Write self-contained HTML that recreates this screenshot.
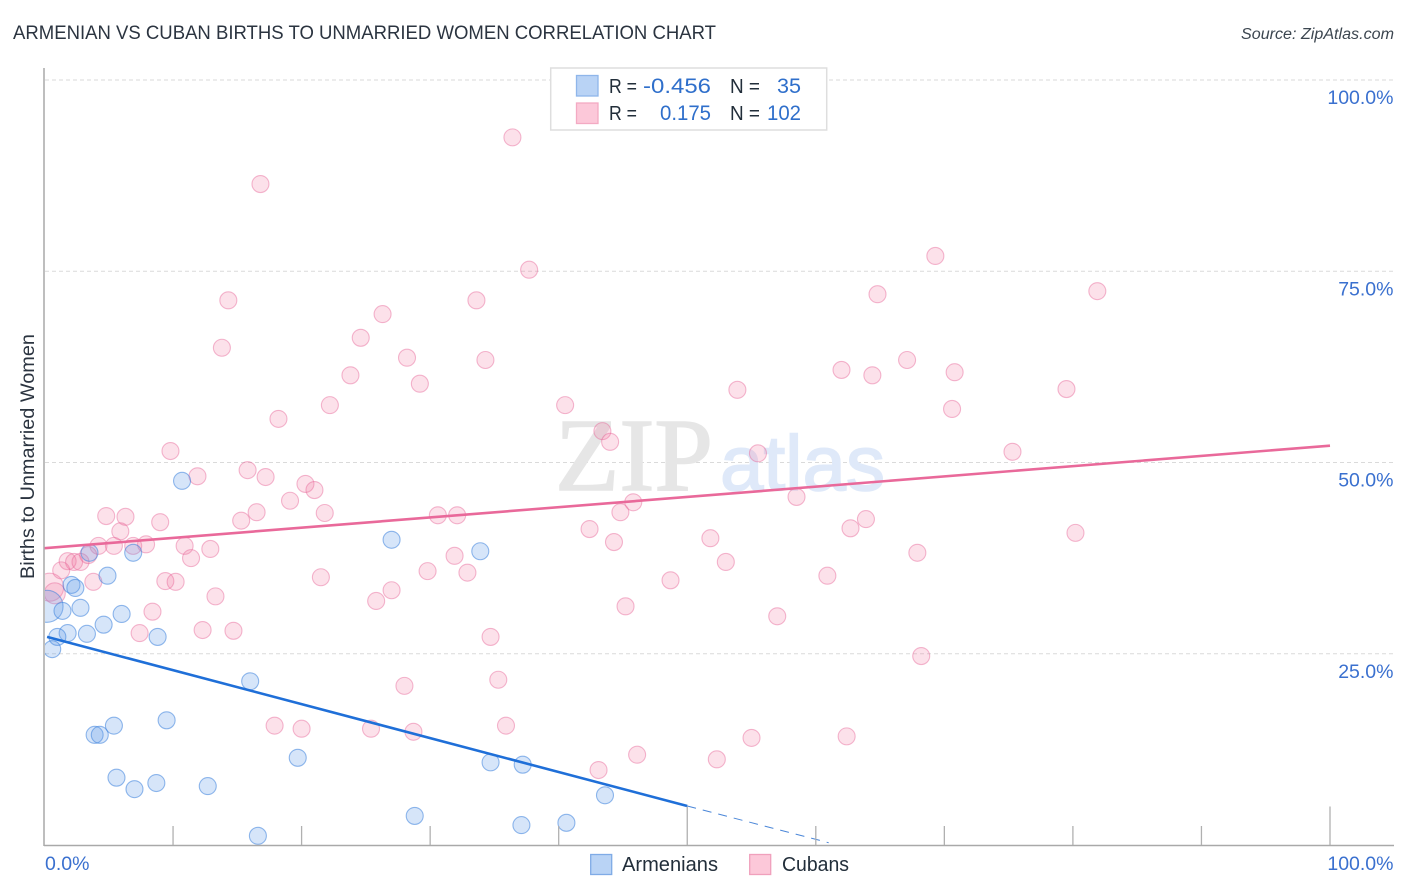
<!DOCTYPE html>
<html lang="en">
<head>
<meta charset="utf-8">
<title>Armenian vs Cuban Births to Unmarried Women Correlation Chart</title>
<style>
  html, body { margin: 0; padding: 0; background: #fff; }
  svg { display: block; }
  text { font-family: "Liberation Sans", sans-serif; }
</style>
</head>
<body>
<svg id="chart" xmlns="http://www.w3.org/2000/svg" width="1406" height="892" viewBox="0 0 1406 892">
  <defs>
    <clipPath id="plot-clip"><rect x="45" y="60" width="1349" height="785"/></clipPath>
  </defs>
  <rect x="0" y="0" width="1406" height="892" fill="#fff"/>

  <text x="13" y="39" font-size="19" fill="#2b3440" textLength="703" lengthAdjust="spacingAndGlyphs">ARMENIAN VS CUBAN BIRTHS TO UNMARRIED WOMEN CORRELATION CHART</text>
  <text x="1241" y="39" font-size="15.5" font-style="italic" fill="#3c4650" textLength="153" lengthAdjust="spacingAndGlyphs">Source: ZipAtlas.com</text>

  <g id="grid-layer"></g>

  <g>
    <text x="555" y="490" font-size="104" fill="#e6e6e6" stroke="#e6e6e6" stroke-width="1.6" style="font-family:'Liberation Serif',serif" textLength="158" lengthAdjust="spacingAndGlyphs">ZIP</text>
    <text x="720" y="490" font-size="78" fill="#dfe9f9" stroke="#dfe9f9" stroke-width="1.6" textLength="165" lengthAdjust="spacingAndGlyphs">atlas</text>
  </g>

  <g id="cuban-layer" clip-path="url(#plot-clip)"></g>
  <g id="armenian-layer" clip-path="url(#plot-clip)"></g>
  <g id="trend-layer"></g>

  <g id="axis-layer">
    <line x1="44" y1="68" x2="44" y2="846" stroke="#a9a9a9" stroke-width="1.5"/>
    <line x1="44" y1="845.5" x2="1394" y2="845.5" stroke="#a9a9a9" stroke-width="1.5"/>
  </g>
  <g id="label-layer"></g>

  <text transform="translate(34,579) rotate(-90)" font-size="19" fill="#2b3440" textLength="245" lengthAdjust="spacingAndGlyphs">Births to Unmarried Women</text>

  <g>
    <rect x="550.7" y="68" width="276" height="62" fill="#fff" stroke="#dedede" stroke-width="1.5"/>
    <rect x="576.5" y="75.5" width="21.5" height="20.5" fill="#b9d3f5" stroke="#8fb6ea" stroke-width="1.3"/>
    <rect x="576.5" y="103" width="21.5" height="20.5" fill="#fcc8d9" stroke="#f3aac3" stroke-width="1.3"/>
    <text x="609" y="93" font-size="20" fill="#222e3a" textLength="28" lengthAdjust="spacingAndGlyphs">R =</text>
    <text x="643" y="93" font-size="21.5" fill="#2f6fcb" textLength="68" lengthAdjust="spacingAndGlyphs">-0.456</text>
    <text x="730" y="93" font-size="20" fill="#222e3a" textLength="30" lengthAdjust="spacingAndGlyphs">N =</text>
    <text x="777" y="93" font-size="21.5" fill="#2f6fcb" textLength="24" lengthAdjust="spacingAndGlyphs">35</text>
    <text x="609" y="120" font-size="20" fill="#222e3a" textLength="28" lengthAdjust="spacingAndGlyphs">R =</text>
    <text x="660" y="120" font-size="21.5" fill="#2f6fcb" textLength="51" lengthAdjust="spacingAndGlyphs">0.175</text>
    <text x="730" y="120" font-size="20" fill="#222e3a" textLength="30" lengthAdjust="spacingAndGlyphs">N =</text>
    <text x="767" y="120" font-size="21.5" fill="#2f6fcb" textLength="34" lengthAdjust="spacingAndGlyphs">102</text>
  </g>

  <g>
    <rect x="590.7" y="854.5" width="21" height="20" fill="#b9d3f5" stroke="#7fabe6" stroke-width="1.3"/>
    <text x="622" y="871" font-size="20" fill="#222e3a" textLength="96" lengthAdjust="spacingAndGlyphs">Armenians</text>
    <rect x="749.7" y="854.5" width="21" height="20" fill="#fcc8d9" stroke="#f0a0bc" stroke-width="1.3"/>
    <text x="782" y="871" font-size="20" fill="#222e3a" textLength="67" lengthAdjust="spacingAndGlyphs">Cubans</text>
  </g>
</svg>

<script>
// Tick values
const yTickValues = [100, 75, 50, 25];
const xMinorTicks = [10, 20, 30, 40, 60, 70, 80, 90];
const xMajorTicks = [50, 100];
const xEndLabels = [0, 100];

// Armenians (x %, y %)
const armenianX = [6.9,3.5,2.1,2.4,4.9,2.8,1.4,6.0,4.6,3.3,1.8,1.0,0.6,8.8,16.0,9.5,5.4,3.9,4.3,5.6,7.0,8.7,12.7,16.6,19.7,10.7,27.0,33.9,34.7,37.2,43.6,28.8,37.1,40.6];
const armenianY = [38.2,38.2,34.0,33.6,35.2,31.0,30.6,30.2,28.8,27.6,27.7,27.2,25.6,27.2,21.4,16.3,15.6,14.4,14.4,8.8,7.3,8.1,7.7,1.2,11.4,47.6,39.9,38.4,10.8,10.5,6.5,3.8,2.6,2.9];
const armenianLargeX = [0.2];
const armenianLargeY = [31.2];

// Cubans (x %, y %)
const cubanX = [36.4,16.8,69.3,37.7,81.9,64.8,14.3,33.6,26.3,24.6,13.8,28.2,34.3,67.1,62.0,64.4,70.8,23.8,29.2,53.9,79.5,22.2,40.5,70.6,18.2,43.4,44.0,9.8,55.5,75.3,15.8,17.2,11.9,20.3,21.0,19.1,58.5,45.8,44.8,21.8,16.5,30.6,32.1,4.8,6.3,15.3,9.0,63.9,5.9,62.7,42.4,80.2,51.8,44.3,4.2,5.4,6.9,7.9,10.9,12.9,11.4,31.9,67.9,53.0,1.8,2.3,2.8,3.4,1.3,29.8,32.9,21.5,9.4,10.2,3.8,48.7,60.9,27.0,13.3,25.8,45.2,8.4,57.0,7.4,12.3,14.7,34.7,68.2,35.3,28.0,17.9,20.0,25.4,28.7,35.9,55.0,62.4,46.1,52.3,43.1];
const cubanY = [92.5,86.4,77.0,75.2,72.4,72.0,71.2,71.2,69.4,66.3,65.0,63.7,63.4,63.4,62.1,61.4,61.8,61.4,60.3,59.5,59.6,57.5,57.5,57.0,55.7,54.1,52.7,51.5,51.2,51.4,49.0,48.1,48.2,47.2,46.4,45.0,45.5,44.8,43.5,43.4,43.5,43.1,43.1,43.0,42.9,42.4,42.2,42.6,41.0,41.4,41.3,40.8,40.1,39.6,39.1,39.1,39.1,39.3,39.1,38.7,37.5,37.8,38.2,37.0,37.1,37.0,37.0,37.9,35.9,35.8,35.6,35.0,34.5,34.4,34.4,34.6,35.2,33.3,32.5,31.9,31.2,30.5,29.9,27.7,28.1,28.0,27.2,24.7,21.6,20.8,15.6,15.2,15.2,14.8,15.6,14.0,14.2,11.8,11.2,9.8];
const cubanLargeX = [0.4, 0.8];
const cubanLargeY = [33.7, 32.9];

// Trend lines (x %, y %)
const armenianTrendX = [0.2, 50];
const armenianTrendY = [27.2, 5.1];
const armenianTrendExtX = [50, 61.0];
const armenianTrendExtY = [5.1, 0.3];
const cubanTrendX = [0, 100];
const cubanTrendY = [38.8, 52.2];

// Axis functions
const xScale = v => 44.5 + v * 12.855;
const yScale = v => 845 - v * 7.65;

const NS = 'http://www.w3.org/2000/svg';
const svgEl = (tag, attrs, parent) => {
  const el = document.createElementNS(NS, tag);
  for (const k in attrs) el.setAttribute(k, attrs[k]);
  parent.appendChild(el);
  return el;
};

const gridLayer = document.getElementById('grid-layer');
const axisLayer = document.getElementById('axis-layer');
const labelLayer = document.getElementById('label-layer');
const trendLayer = document.getElementById('trend-layer');
const cubanLayer = document.getElementById('cuban-layer');
const armenianLayer = document.getElementById('armenian-layer');

yTickValues.forEach(v => {
  const g = svgEl('line', {x1: 45, x2: 1393, y1: yScale(v), y2: yScale(v), stroke: '#dadada', 'stroke-width': 1, 'stroke-dasharray': '4 3'}, gridLayer);
  
  
  const t = svgEl('text', {x: 1393.5, y: yScale(v) + 24, 'font-size': 19.5, fill: '#3a70cf', 'text-anchor': 'end'}, labelLayer);
  
  
  t.textContent = v.toFixed(1) + '%';
});

xMinorTicks.forEach(v => {
  const m = svgEl('line', {x1: xScale(v), x2: xScale(v), y1: 826, y2: 845, stroke: '#b0b0b0', 'stroke-width': 1.3}, axisLayer);
  
  
});

xMajorTicks.forEach(v => {
  const m = svgEl('line', {x1: xScale(v), x2: xScale(v), y1: 806.5, y2: 845, stroke: '#b0b0b0', 'stroke-width': 1.3}, axisLayer);
  
  
});

xEndLabels.forEach(v => {
  const t = svgEl('text', {x: v === 0 ? 45 : 1393.5, y: 870, 'font-size': 19.5, fill: '#3a70cf', 'text-anchor': v === 0 ? 'start' : 'end'}, labelLayer);
  
  
  t.textContent = v.toFixed(1) + '%';
});

const cubanStyle = {fill: 'rgba(240,120,160,0.22)', stroke: 'rgba(230,100,150,0.45)', 'stroke-width': 1.1};
const armenianStyle = {fill: 'rgba(90,150,230,0.25)', stroke: 'rgba(60,130,220,0.55)', 'stroke-width': 1.1};

cubanLargeX.forEach((v, i) => {
  const c = svgEl('circle', Object.assign({cx: xScale(v), cy: yScale(cubanLargeY[i]), r: i === 0 ? 14 : 10.5}, cubanStyle), cubanLayer);
  
  
});

cubanX.forEach((v, i) => {
  const c = svgEl('circle', Object.assign({cx: xScale(v), cy: yScale(cubanY[i]), r: 8.5}, cubanStyle), cubanLayer);
  
  
});

armenianLargeX.forEach((v, i) => {
  const c = svgEl('circle', Object.assign({cx: xScale(v), cy: yScale(armenianLargeY[i]), r: 16}, armenianStyle), armenianLayer);
  
  
});

armenianX.forEach((v, i) => {
  const c = svgEl('circle', Object.assign({cx: xScale(v), cy: yScale(armenianY[i]), r: 8.5}, armenianStyle), armenianLayer);
  
  
});

const cubanLine = svgEl('line', {x1: xScale(cubanTrendX[0]), y1: yScale(cubanTrendY[0]), x2: xScale(cubanTrendX[1]), y2: yScale(cubanTrendY[1]), stroke: '#e9699a', 'stroke-width': 2.6}, trendLayer);



const armenianLine = svgEl('line', {x1: xScale(armenianTrendX[0]), y1: yScale(armenianTrendY[0]), x2: xScale(armenianTrendX[1]), y2: yScale(armenianTrendY[1]), stroke: '#1f6fd8', 'stroke-width': 2.6}, trendLayer);



const armenianExt = svgEl('line', {x1: xScale(armenianTrendExtX[0]), y1: yScale(armenianTrendExtY[0]), x2: xScale(armenianTrendExtX[1]), y2: yScale(armenianTrendExtY[1]), stroke: '#4a86d8', 'stroke-width': 1, 'stroke-dasharray': '9 7'}, trendLayer);


</script>
</body>
</html>
